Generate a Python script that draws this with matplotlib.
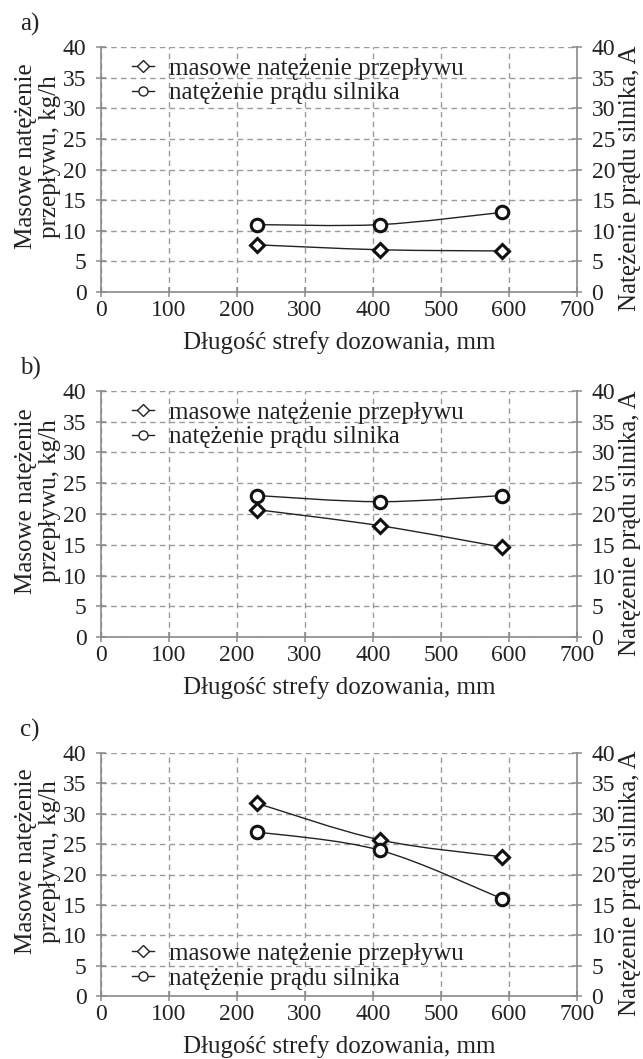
import matplotlib
matplotlib.use("Agg")
import matplotlib.pyplot as plt
from matplotlib.lines import Line2D
from matplotlib.path import Path
from matplotlib.patches import PathPatch
import numpy as np

plt.rcParams['font.family'] = ['Liberation Serif', 'DejaVu Serif']

# ---- data ----
length_mm = [230, 410, 590]
mass_a = [7.7, 6.9, 6.7]
current_a = [11, 11, 13]
mass_b = [20.7, 18.1, 14.6]
current_b = [23, 22, 23]
mass_c = [31.7, 25.7, 22.9]
current_c = [27, 24, 16]
panel_labels = ['a)', 'b)', 'c)']
x_ticks = [0, 100, 200, 300, 400, 500, 600, 700]
y_ticks = [0, 5, 10, 15, 20, 25, 30, 35, 40]
legend_labels = ['masowe natężenie przepływu', 'natężenie prądu silnika']
xlabel = 'Długość strefy dozowania, mm'
ylabel_left = 'Masowe natężenie\nprzepływu, kg/h'
ylabel_right = 'Natężenie prądu silnika, A'

W, H = 643, 1059
fig = plt.figure(figsize=(W / 100, H / 100), dpi=100)

GRAY = '#8a8a8a'
GRID = '#9a9a9a'
TXT = '#222222'
FS_TICK = 17
FS = 18

# axes pixel boxes: (top, bottom)
boxes = [(47, 292), (391, 637), (753, 996)]
left_px, right_px = 101, 577
legend_pos = ['upper', 'upper', 'lower']


def smooth_path(xs, ys):
    xs = np.asarray(xs, float)
    ys = np.asarray(ys, float)
    n = len(xs)
    verts = [(xs[0], ys[0])]
    codes = [Path.MOVETO]
    for i in range(n - 1):
        x0, y0 = (xs[i - 1], ys[i - 1]) if i > 0 else (xs[i], ys[i])
        x3, y3 = (xs[i + 2], ys[i + 2]) if i + 2 < n else (xs[i + 1], ys[i + 1])
        c1 = (xs[i] + (xs[i + 1] - x0) / 6, ys[i] + (ys[i + 1] - y0) / 6)
        c2 = (xs[i + 1] - (x3 - xs[i]) / 6, ys[i + 1] - (y3 - ys[i]) / 6)
        verts += [c1, c2, (xs[i + 1], ys[i + 1])]
        codes += [Path.CURVE4] * 3
    return Path(verts, codes)


datasets = [(mass_a, current_a), (mass_b, current_b), (mass_c, current_c)]

for k, ((top, bot), (mass, cur)) in enumerate(zip(boxes, datasets)):
    h_px = bot - top
    ax = fig.add_axes([left_px / W, 1 - bot / H, (right_px - left_px) / W, h_px / H])
    ax.set_xlim(0, 700)
    ax.set_ylim(0, 40)
    ax.set_xticks(x_ticks)
    ax.set_yticks(y_ticks)
    ax.grid(True, color=GRID, linestyle=(0, (4, 3)), linewidth=1.0)
    ax.set_axisbelow(True)
    ax.spines['top'].set_visible(False)
    for s in ['left', 'bottom', 'right']:
        ax.spines[s].set_color(GRAY)
        ax.spines[s].set_linewidth(1.2)
    ax.tick_params(axis='both', direction='inout', length=7, width=1.1, color=GRAY,
                   labelsize=FS_TICK, labelcolor=TXT)
    ax.tick_params(axis='x', pad=2)
    ax.tick_params(axis='y', left=True, right=True, labelleft=True, labelright=True, pad=7)

    ax.add_patch(PathPatch(smooth_path(length_mm, mass), fill=False, edgecolor=TXT, linewidth=1.0, zorder=3))
    ax.add_patch(PathPatch(smooth_path(length_mm, cur), fill=False, edgecolor=TXT, linewidth=1.0, zorder=3))
    ax.plot(length_mm, mass, linestyle='none', marker='D', markersize=7.5, markerfacecolor='white',
            markeredgecolor='#111111', markeredgewidth=2.2, zorder=4, clip_on=False)
    ax.plot(length_mm, cur, linestyle='none', marker='o', markersize=9, markerfacecolor='white',
            markeredgecolor='#111111', markeredgewidth=2.2, zorder=4, clip_on=False)

    ax.set_xlabel(xlabel, fontsize=FS, color=TXT, va='center')
    ax.xaxis.set_label_coords(0.5, -51 / h_px)

    mid = (top + bot) / 2
    fig.text(38 / W, 1 - (mid - 13) / H, ylabel_left, rotation=90, ha='center', va='center',
             fontsize=FS, color=TXT, linespacing=1.15)
    fig.text(630 / W, 1 - (mid + 9) / H, ylabel_right, rotation=90, ha='center',
             va='center', fontsize=FS, color=TXT)
    fig.text(20 / W, 1 - (top - 23) / H, panel_labels[k], ha='left', va='center',
             fontsize=FS, color=TXT)

    handles = [Line2D([], [], color=TXT, linewidth=1.0, marker='D', markersize=6,
                      markerfacecolor='white', markeredgecolor=TXT, markeredgewidth=1.0),
               Line2D([], [], color=TXT, linewidth=1.0, marker='o', markersize=6.5,
                      markerfacecolor='white', markeredgecolor=TXT, markeredgewidth=1.0)]
    if legend_pos[k] == 'upper':
        loc, anchor = 'upper left', (0.065, 1 - 10 / h_px)
    else:
        loc, anchor = 'lower left', (0.065, 6 / h_px)
    ax.legend(handles, legend_labels, loc=loc, bbox_to_anchor=anchor, frameon=False,
              fontsize=FS, handlelength=0.9, handletextpad=0.6, labelspacing=0.1,
              borderpad=0, borderaxespad=0, labelcolor=TXT)

fig.savefig('out.png', dpi=100)
